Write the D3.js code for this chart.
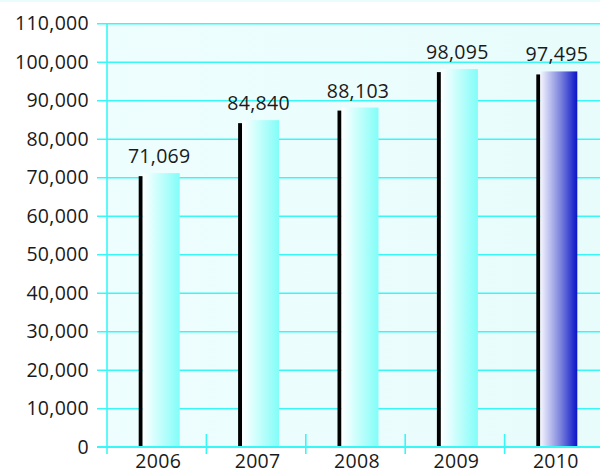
<!DOCTYPE html>
<html>
<head>
<meta charset="utf-8">
<script src="https://cdn.jsdelivr.net/npm/d3@7"></script>
<style>
  html, body { margin: 0; padding: 0; background: #fff; }
  svg text { font-family: "Open Sans", "Noto Sans", sans-serif; fill: #1a1a1a; font-size: 19.5px; letter-spacing: 0.3px; }
</style>
</head>
<body>
<svg id="chart" width="600" height="473"></svg>
<script>
// Yearly totals
const years = ["2006", "2007", "2008", "2009", "2010"];
const values = [71069, 84840, 88103, 98095, 97495];
const valueLabels = ["71,069", "84,840", "88,103", "98,095", "97,495"];
const yTicks = [0, 10000, 20000, 30000, 40000, 50000, 60000, 70000, 80000, 90000, 100000, 110000];
const highlightYear = "2010";

const svg = d3.select("#chart");
const plotLeft = 107, plotRight = 604, plotTop = 23.3, plotBottom = 446.7;
const grid = "#3af7f7";

const x = d3.scaleBand().domain(years).range([plotLeft, plotRight]);
const y = d3.scaleLinear().domain([0, 110000]).range([plotBottom, plotTop]);

const defs = svg.append("defs");
const mkGrad = (id, stops) => {
  const g = defs.append("linearGradient").attr("id", id)
    .attr("x1", "0%").attr("x2", "100%").attr("y1", "0%").attr("y2", "0%");
  stops.forEach(([o, c]) => g.append("stop").attr("offset", o).attr("stop-color", c));
};
mkGrad("gCyan", [["0%", "#ffffff"], ["100%", "#82fdf8"]]);
mkGrad("gBlue", [["0%", "#f6f6fe"], ["55%", "#7b82dc"], ["100%", "#0a14c8"]]);
mkGrad("gBack", [["0%", "#eefefe"], ["100%", "#e8fcfc"]]);

// plot background
svg.append("rect").attr("x", plotLeft).attr("y", plotTop)
  .attr("width", 600 - plotLeft).attr("height", plotBottom - plotTop)
  .attr("fill", "url(#gBack)");
svg.append("rect").attr("x", 0).attr("y", 0).attr("width", 600).attr("height", 2)
  .attr("fill", "#e9fdfd");

// horizontal gridlines with left stubs
const yAxis = d3.axisLeft(y).tickValues(yTicks)
  .tickFormat(d3.format(",")).tickSize(0).tickPadding(0);
const ya = svg.append("g").attr("transform", `translate(${plotLeft - 10},0)`).call(yAxis);
ya.select(".domain").remove();
ya.selectAll(".tick line").attr("stroke", grid).attr("stroke-width", 1.6)
  .attr("x1", 0).attr("x2", 600 - plotLeft + 10);
ya.selectAll(".tick text").attr("x", -8).attr("dy", "0.34em");

// vertical axis line
svg.append("line").attr("x1", plotLeft).attr("x2", plotLeft).attr("y1", plotTop).attr("y2", 454)
  .attr("stroke", grid).attr("stroke-width", 1.6);

// category boundary ticks
const bounds = years.slice(1).map(d => x(d));
svg.selectAll("line.cat").data(bounds).join("line").attr("class", "cat")
  .attr("x1", d => d).attr("x2", d => d).attr("y1", 434).attr("y2", 454)
  .attr("stroke", grid).attr("stroke-width", 1.6);

// bars: dark edge on the left plus gradient body
const bw = 41, edge = 4;
const bx = d => x(d) + x.bandwidth() / 2 - 18;
const bars = svg.selectAll("g.bar").data(years.map((yr, i) => ({ yr, v: values[i], lab: valueLabels[i] })))
  .join("g").attr("class", "bar");
bars.append("rect")
  .attr("x", d => bx(d.yr)).attr("y", d => y(d.v) + 3)
  .attr("width", edge).attr("height", d => plotBottom - y(d.v) - 3)
  .attr("fill", "#000");
bars.append("rect")
  .attr("x", d => bx(d.yr) + edge).attr("y", d => y(d.v))
  .attr("width", bw - edge).attr("height", d => plotBottom - y(d.v))
  .attr("fill", d => d.yr === highlightYear ? "url(#gBlue)" : "url(#gCyan)");
bars.append("text")
  .attr("x", d => bx(d.yr) + bw / 2).attr("y", d => y(d.v) - 10)
  .attr("text-anchor", "middle")
  .text(d => d.lab);

// baseline
svg.append("line").attr("x1", plotLeft - 10).attr("x2", 600).attr("y1", plotBottom).attr("y2", plotBottom)
  .attr("stroke", grid).attr("stroke-width", 1.6);

// year labels
svg.selectAll("text.yr").data(years).join("text").attr("class", "yr")
  .attr("x", d => x(d) + x.bandwidth() / 2 + 1.5).attr("y", 468)
  .attr("text-anchor", "middle")
  .text(d => d);
</script>
</body>
</html>
